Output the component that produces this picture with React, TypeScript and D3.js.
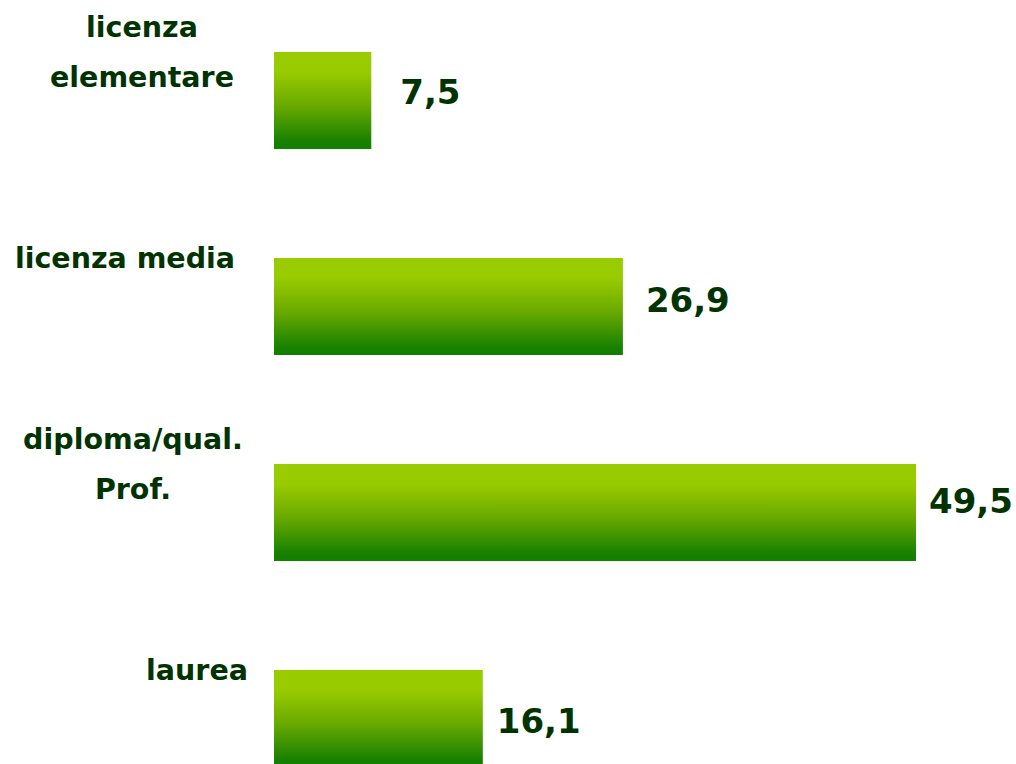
import React from "react";
import * as d3 from "d3";

const categories = ["licenza elementare", "licenza media", "diploma/qual. Prof.", "laurea"];
const values = [7.5, 26.9, 49.5, 16.1];
const valueLabels = ["7,5", "26,9", "49,5", "16,1"];
const labelLines = [["licenza", "elementare"], ["licenza media"], ["diploma/qual.", "Prof."], ["laurea"]];

// layout (not data)
const labelCenterX = [142, 125, 133, 197];
const valueOffsetX = [29, 23, 13, 14];
const valueOffsetY = [3, 5, 1, 15];

const W = 1016;
const H = 764;
const TEXT = "#003300";

export default function App() {
  const x = d3.scaleLinear().domain([0, 49.5]).range([274, 916]);
  const y = d3
    .scaleBand<string>()
    .domain(categories)
    .range([52, 767])
    .paddingInner(0.529)
    .paddingOuter(0);
  const bw = y.bandwidth();
  const lineH = 50;

  return (
    <svg
      width={W}
      height={H}
      style={{ position: "absolute", left: 0, top: 0, background: "#fff" }}
      fontFamily="'DejaVu Sans', Verdana, sans-serif"
      fontWeight="bold"
    >
      <defs>
        <linearGradient id="barGrad" x1="0" y1="0" x2="0" y2="1">
          <stop offset="0" stopColor="#99cc00" />
          <stop offset="0.2" stopColor="#99cc00" />
          <stop offset="0.55" stopColor="#6aaa00" />
          <stop offset="0.93" stopColor="#168000" />
          <stop offset="1" stopColor="#138000" />
        </linearGradient>
      </defs>
      {categories.map((c, i) => {
        const top = y(c) as number;
        const lines = labelLines[i];
        const firstBaseline = top - ((lines.length - 1) * lineH) / 2 + 10;
        return (
          <g key={c}>
            <rect x={x(0)} y={top} width={x(values[i]) - x(0)} height={bw} fill="url(#barGrad)" />
            <text fill={TEXT} fontSize={28.5} textAnchor="middle">
              {lines.map((ln, j) => (
                <tspan key={j} x={labelCenterX[i]} y={firstBaseline + j * lineH}>
                  {ln}
                </tspan>
              ))}
            </text>
            <text
              x={x(values[i]) + valueOffsetX[i]}
              y={top + bw / 2 + valueOffsetY[i]}
              fill={TEXT}
              fontSize={34}
            >
              {valueLabels[i]}
            </text>
          </g>
        );
      })}
    </svg>
  );
}
